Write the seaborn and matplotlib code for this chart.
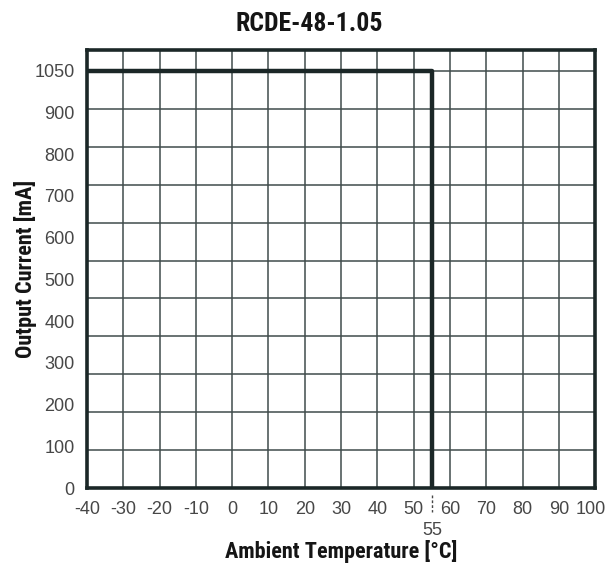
import numpy as np
import matplotlib
matplotlib.use("Agg")
import matplotlib.pyplot as plt
import matplotlib.transforms as mtransforms
from matplotlib import font_manager
import seaborn as sns

# derating curve
temp = [-40, 55, 55]
current = [1050, 1050, 0]

x_ticks = [-40, -30, -20, -10, 0, 10, 20, 30, 40, 50, 60, 70, 80, 90, 100]
x_grid = [-30, -20, -10, 0, 10, 20, 30, 40, 50, 60, 70, 80, 90]
y_labels = ["0", "100", "200", "300", "400", "500", "600", "700", "800", "900", "1050"]
knee_temp = 55
max_current = 1050

installed = {f.name for f in font_manager.fontManager.ttflist}
narrow = [f for f in ["Roboto Condensed", "DejaVu Sans Condensed", "Liberation Sans Narrow", "Roboto"]
          if f in installed] + ["DejaVu Sans"]

sns.set_theme(style="white")
plt.rcParams["font.family"] = ["Liberation Sans", "DejaVu Sans"]

line_col = "#1b2727"
grid_col = "#404c4c"
text_col = "#474747"

fig = plt.figure(figsize=(6.08, 5.65), dpi=100)
ax = fig.add_axes([0.143, 0.136, 0.836, 0.776])

sns.lineplot(x=temp, y=current, sort=False, estimator=None, ax=ax,
             color=line_col, linewidth=3.2, zorder=5)

ax.set_xlim(-40, 100)
ax.set_ylim(0, 1103)

# tick labels
ax.set_xticks(x_ticks)
ax.set_xticklabels([str(v) for v in x_ticks])
ax.set_yticks(np.linspace(0, max_current, len(y_labels)))
ax.set_yticklabels(y_labels)
ax.tick_params(axis="both", length=0, labelsize=13, colors=text_col)
ax.tick_params(axis="y", pad=9)
ax.tick_params(axis="x", pad=9)
last = ax.get_xticklabels()[-1]
last.set_transform(last.get_transform() + mtransforms.ScaledTranslation(-4 / 100, 0, fig.dpi_scale_trans))

# grid (independent of labels)
for xv in x_grid:
    ax.axvline(xv, color=grid_col, linewidth=1.1, zorder=1)
for yv in np.linspace(0, max_current, 12)[1:]:
    ax.axhline(yv, color=grid_col, linewidth=1.1, zorder=1)

for s in ax.spines.values():
    s.set_visible(True)
    s.set_color(line_col)
    s.set_linewidth(2.6)

# 55 marker below axis
trans = mtransforms.blended_transform_factory(ax.transData, ax.transAxes)
ax.plot([knee_temp, knee_temp], [-0.015, -0.055], transform=trans, clip_on=False,
        color=text_col, linewidth=1, linestyle=(0, (2, 1.5)))
ax.text(knee_temp, -0.077, "55", transform=trans, ha="center", va="top",
        fontsize=13, color=text_col)

ax.set_xlabel("Ambient Temperature [°C]", family=narrow, fontweight="bold",
              fontsize=16, color="#151515", labelpad=16)
ax.set_ylabel("Output Current [mA]", family=narrow, fontweight="bold",
              fontsize=16, color="#151515", labelpad=-2)
fig.suptitle("RCDE-48-1.05", family=narrow, fontweight="bold",
             fontsize=18.5, color="#151515", x=0.508, y=0.979, va="top")

fig.savefig("out.png", dpi=100)
